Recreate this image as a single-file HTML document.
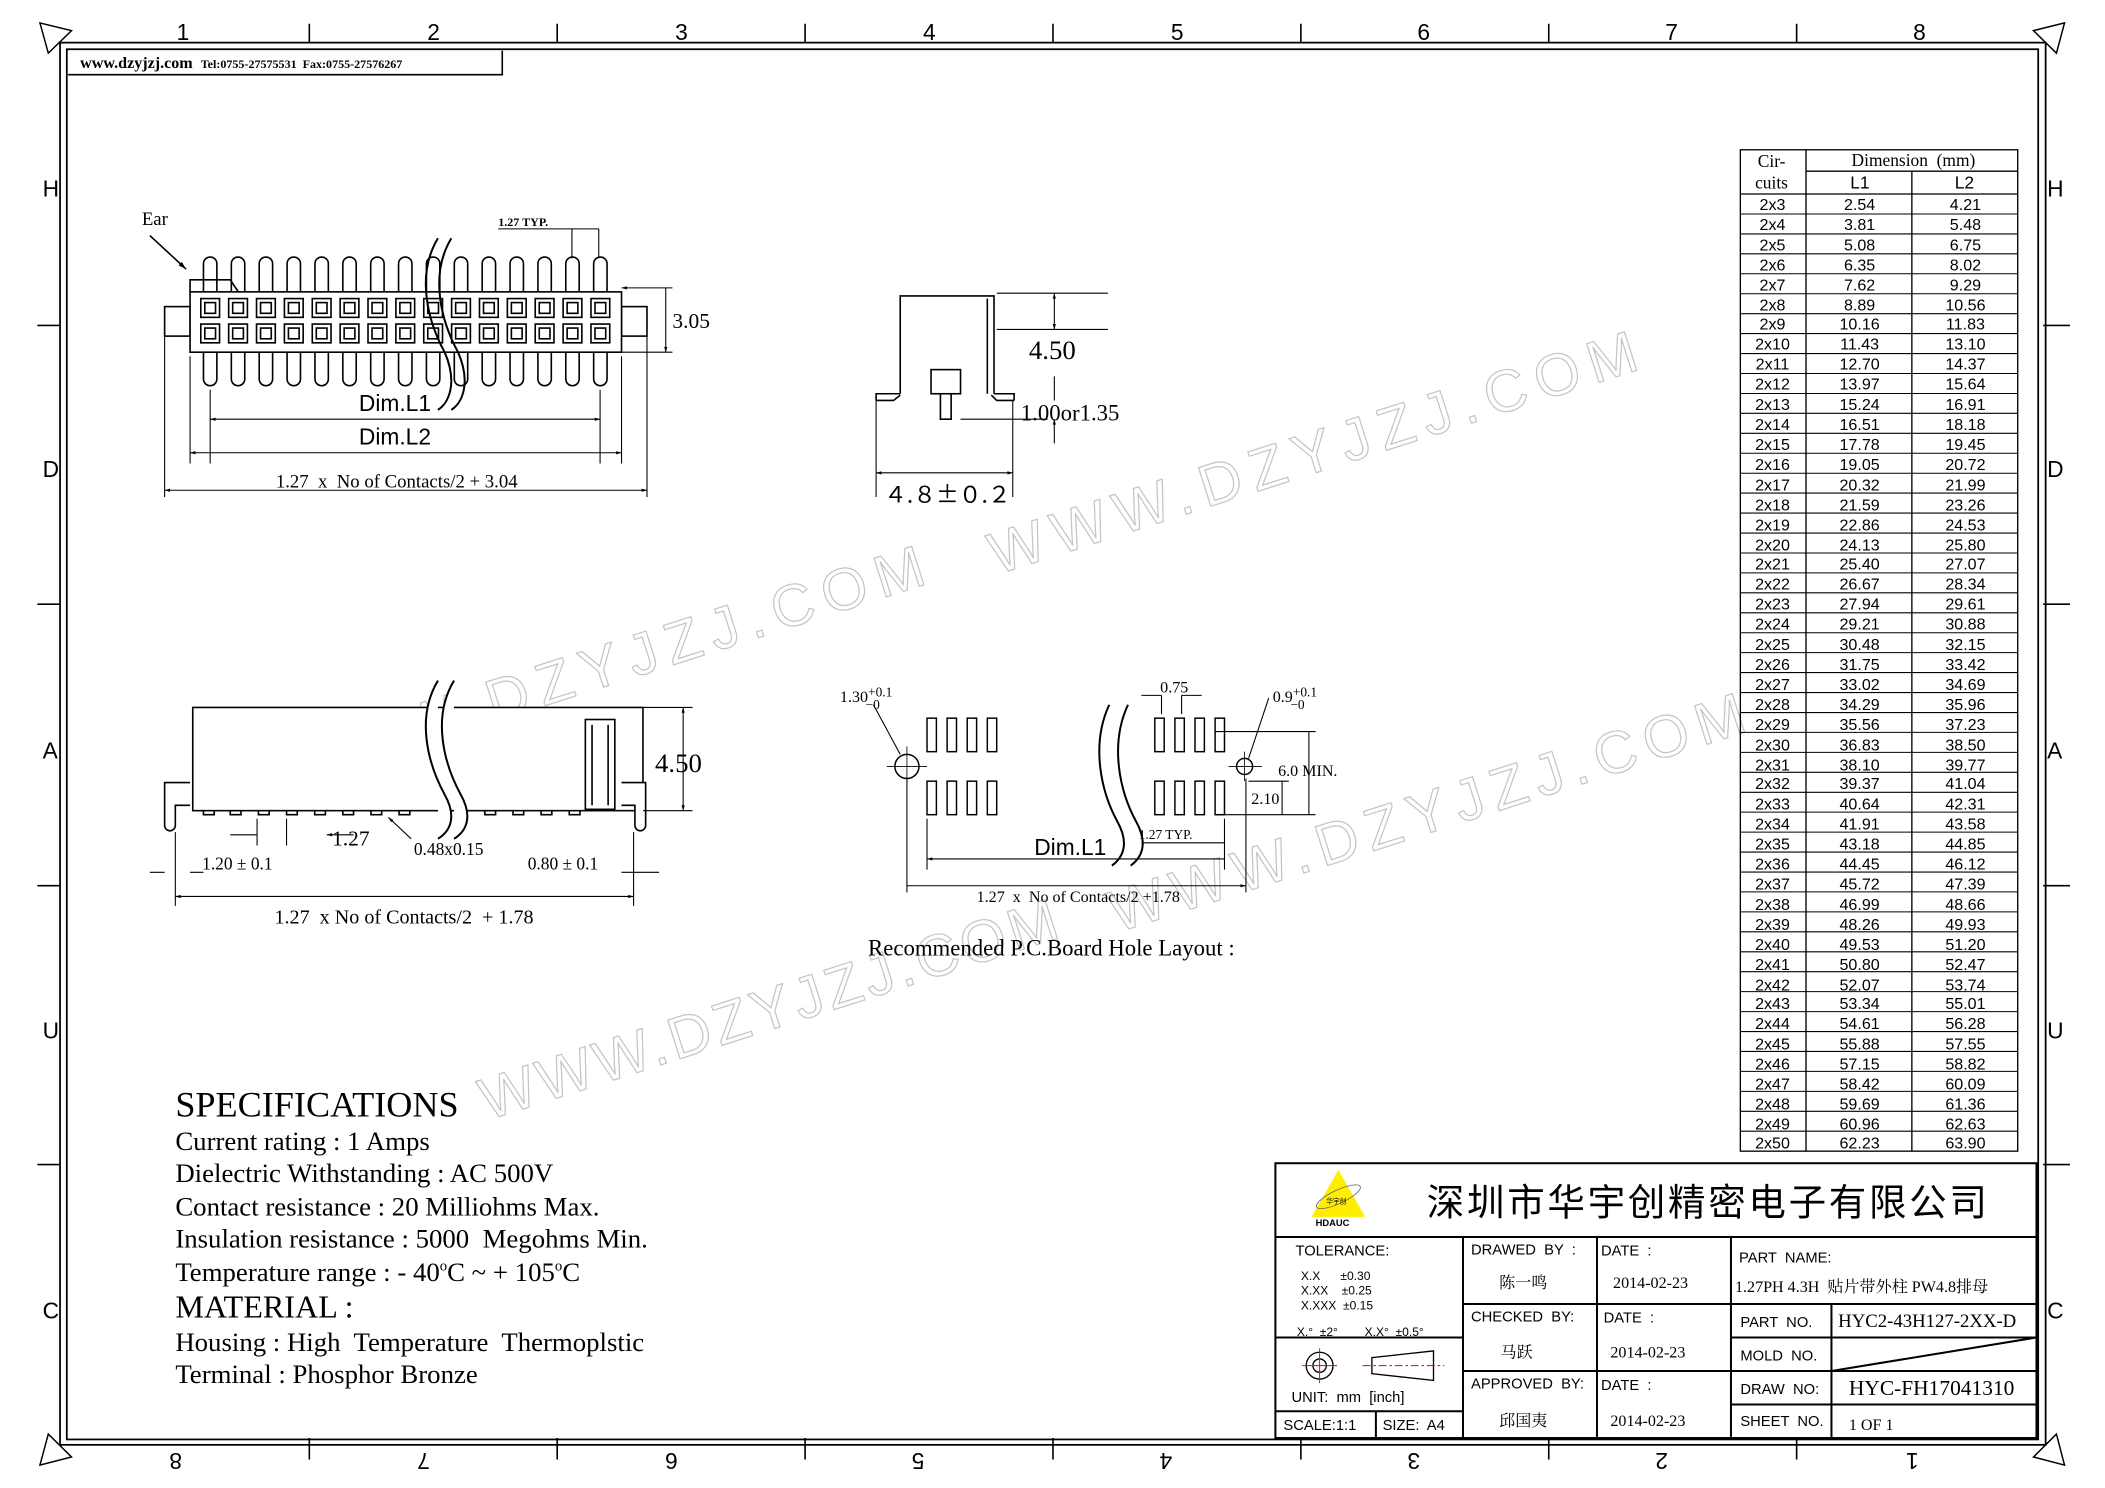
<!DOCTYPE html>
<html><head><meta charset="utf-8"><style>
html,body{margin:0;padding:0;background:#fff}
svg{display:block}
text{font-family:"Liberation Serif","Noto Serif CJK SC",serif;fill:#000;white-space:pre}
.s,.s text,.s tspan{font-family:"Liberation Sans","Noto Sans CJK SC",sans-serif}
.wm text{font-family:"Liberation Sans",sans-serif;font-weight:normal;fill:none;stroke:#c4c4c4;stroke-width:0.9}
</style></head><body>
<svg width="2105" height="1488" viewBox="0 0 1560 1103" preserveAspectRatio="none" xmlns="http://www.w3.org/2000/svg">
<defs>
<marker id="a" viewBox="0 0 10 10" refX="10" refY="5" markerWidth="7" markerHeight="5" orient="auto-start-reverse"><path d="M0,2 L10,5 L0,8z" fill="#000"/></marker>
</defs>
<!-- frame -->
<g fill="none" stroke="#000" stroke-width="1.3">
<rect x="44.5" y="31.6" width="1471.5" height="1039.4"/>
<rect x="49.5" y="36.5" width="1461" height="1030.5"/>
<path d="M29.6 17L53 22.7L35.8 39.4Z M1507 22.7L1530 17L1524 39.4Z M1507 1080L1524 1063L1530 1086Z M29.6 1086L35.8 1063L53 1080Z" stroke-width="1.1"/>
</g>
<g transform="matrix(0.993,0,0,0.9937,1.84,0.72)">
<g fill="none" stroke="#000" stroke-width="1.2">
<path d="M229 17V31M414 17V31M599 17V31M784 17V31M969 17V31M1154 17V31M1339 17V31 M229 1072V1088M414 1072V1088M599 1072V1088M784 1072V1088M969 1072V1088M1154 1072V1088M1339 1072V1088 M26 242H43M26 450H43M26 660H43M26 868H43M1523 242H1543M1523 450H1543M1523 660H1543M1523 868H1543"/>
<path d="M49 55H373V37"/>
</g>
<g font-size="17" class="s">
<text x="130" y="29">1</text><text x="317" y="29">2</text><text x="502" y="29">3</text><text x="687" y="29">4</text><text x="872" y="29">5</text><text x="1056" y="29">6</text><text x="1241" y="29">7</text><text x="1426" y="29">8</text>
<text x="30" y="146">H</text><text x="30" y="355">D</text><text x="30" y="565">A</text><text x="30" y="774">U</text><text x="30" y="983">C</text>
<text x="1526" y="146">H</text><text x="1526" y="355">D</text><text x="1526" y="565">A</text><text x="1526" y="774">U</text><text x="1526" y="983">C</text>
<g transform="rotate(180 780 1078)">
<text x="130" y="1073">1</text><text x="317" y="1073">2</text><text x="502" y="1073">3</text><text x="687" y="1073">4</text><text x="872" y="1073">5</text><text x="1056" y="1073">6</text><text x="1241" y="1073">7</text><text x="1426" y="1073">8</text>
</g>
</g>
<text x="58" y="50" font-size="12" font-weight="bold">www.dzyjzj.com  <tspan font-size="9">Tel:0755-27575531  Fax:0755-27576267</tspan></text>

<g class="wm" font-size="44">
<text transform="translate(742,428) rotate(-17.7)" textLength="505" lengthAdjust="spacing">WWW.DZYJZJ.COM</text>
<text transform="translate(210,588) rotate(-17.7)" textLength="505" lengthAdjust="spacing">WWW.DZYJZJ.COM</text>
<text transform="translate(362,835) rotate(-17.7)" textLength="450" lengthAdjust="spacing">WWW.DZYJZJ.COM</text>
<text transform="translate(832,695) rotate(-17.7)" textLength="495" lengthAdjust="spacing">WWW.DZYJZJ.COM</text>
</g>

<g fill="#fff" stroke="#000" stroke-width="1.2">
<rect x="121" y="228" width="19" height="22"/><rect x="462" y="228" width="19" height="22"/>
<g id="pins">
<path d="M150 217V196a5 5 0 0 1 10 0V217M150 262V282a5 5 0 0 0 10 0V262"/>
</g>
<use href="#pins" x="20.8"/><use href="#pins" x="41.6"/><use href="#pins" x="62.4"/><use href="#pins" x="83.2"/><use href="#pins" x="104"/><use href="#pins" x="124.8"/><use href="#pins" x="145.6"/><use href="#pins" x="166.4"/><use href="#pins" x="187.2"/><use href="#pins" x="208"/><use href="#pins" x="228.8"/><use href="#pins" x="249.6"/><use href="#pins" x="270.4"/><use href="#pins" x="291.2"/>
<rect x="140" y="217" width="322" height="45"/>
<path d="M140 217V208H170L176 217" fill="none"/>
<g id="sq"><rect x="148" y="222" width="14" height="14"/><rect x="151" y="225" width="8" height="8"/><rect x="148" y="241" width="14" height="14"/><rect x="151" y="244" width="8" height="8"/></g>
<use href="#sq" x="20.8"/><use href="#sq" x="41.6"/><use href="#sq" x="62.4"/><use href="#sq" x="83.2"/><use href="#sq" x="104"/><use href="#sq" x="124.8"/><use href="#sq" x="145.6"/><use href="#sq" x="166.4"/><use href="#sq" x="187.2"/><use href="#sq" x="208"/><use href="#sq" x="228.8"/><use href="#sq" x="249.6"/><use href="#sq" x="270.4"/><use href="#sq" x="291.2"/>
</g>
<g fill="none" stroke="#000" stroke-width="1.2">
<path d="M325 177C308 205 318 240 330 262C340 285 333 300 325 305M335 177C318 205 328 240 340 262C350 285 343 300 335 305" stroke-width="1.5"/>
<path d="M110 175L137 200" marker-end="url(#a)"/>
<path d="M370 170H445M425 170V192M445 170V192" stroke-width="0.8"/>
<path d="M462 214H500M462 262H500M495 214V262" stroke-width="0.8" marker-start="url(#a)" marker-end="url(#a)"/>
<path d="M155 290V345M446 290V345M140 265V345M462 265V345M121 250V370M481 250V370" stroke-width="0.8"/>
<path d="M155 312H446" marker-start="url(#a)" marker-end="url(#a)" stroke-width="0.8"/>
<path d="M140 337H462" marker-start="url(#a)" marker-end="url(#a)" stroke-width="0.8"/>
<path d="M121 365H481" marker-start="url(#a)" marker-end="url(#a)" stroke-width="0.8"/>
</g>
<text x="104" y="167" font-size="14">Ear</text>
<text x="370" y="168" font-size="9" font-weight="bold">1.27 TYP.</text>
<text x="500" y="244" font-size="16">3.05</text>
<g class="s"><text x="266" y="306" font-size="17">Dim.L1</text>
<text x="266" y="331" font-size="17">Dim.L2</text></g>
<text x="204" y="363" font-size="14">1.27  x  No of Contacts/2 + 3.04</text>

<g fill="none" stroke="#000" stroke-width="1.2">
<path d="M670 293V220H740V293"/>
<path d="M735 222V293"/>
<path d="M652 298V293H670M740 293H755V298M652 298H665L670 294M755 298H742L738 294"/>
<rect x="693" y="275" width="22" height="18"/>
<path d="M700 293V312H708V293"/>
<path d="M742 218H825M742 245H825M715 312H780" stroke-width="0.8"/>
<path d="M785 218V245" marker-start="url(#a)" marker-end="url(#a)" stroke-width="0.8"/>
<path d="M785 280V298M785 330V312" marker-end="url(#a)" stroke-width="0.8"/>
<path d="M652 298V370M754 298V370" stroke-width="0.8"/>
<path d="M652 352H754" marker-start="url(#a)" marker-end="url(#a)" stroke-width="0.8"/>
</g>
<text x="766" y="267" font-size="20">4.50</text>
<text x="760" y="313" font-size="17">1.00or1.35</text>
<text x="658" y="374" font-size="17" style="font-family:'Noto Sans CJK SC',sans-serif">４.８±０.２</text>

<g fill="none" stroke="#000" stroke-width="1.2">
<rect x="142" y="527" width="336" height="77" fill="#fff"/>
<path d="M140 583H121V615a4 4 0 0 0 8 0V600H140M462 583H480V615a4 4 0 0 1 -8 0V600H462" fill="#fff"/>
<rect x="435" y="536" width="22" height="67"/>
<path d="M440 540V600M452 540V600"/>
<path d="M150 604v3h8v-3M170 604v3h8v-3M191 604v3h8v-3M212 604v3h8v-3M233 604v3h8v-3M254 604v3h8v-3M275 604v3h8v-3M296 604v3h8v-3M360 604v3h8v-3M381 604v3h8v-3M402 604v3h8v-3M423 604v3h8v-3"/>
<path d="M325 507C308 535 318 570 330 592C340 610 333 620 325 625M337 507C320 535 330 570 342 592C352 610 345 620 337 625" stroke-width="1.5" fill="#fff"/>
<path d="M478 527H515M478 604H515" stroke-width="0.8"/>
<path d="M508 527V604" marker-start="url(#a)" marker-end="url(#a)" stroke-width="0.8"/>
<path d="M170 622H190M262 622H242" marker-end="url(#a)" stroke-width="0.8"/>
<path d="M190 610V630M212 610V630" stroke-width="0.8"/>
<path d="M305 625L288 609" marker-end="url(#a)" stroke-width="0.8"/>
<path d="M110 650H121M140 650H150" stroke-width="0.8"/>
<path d="M129 620V675M471 620V675" stroke-width="0.8"/>
<path d="M129 668H471" marker-start="url(#a)" marker-end="url(#a)" stroke-width="0.8"/>
<path d="M462 650H490" stroke-width="0.8"/>
</g>
<text x="487" y="575" font-size="20">4.50</text>
<text x="246" y="630" font-size="16">1.27</text>
<text x="307" y="637" font-size="13">0.48x0.15</text>
<text x="149" y="648" font-size="13">1.20 ± 0.1</text>
<text x="392" y="648" font-size="13">0.80 ± 0.1</text>
<text x="203" y="688" font-size="15">1.27  x No of Contacts/2  + 1.78</text>

<g fill="none" stroke="#000" stroke-width="1.1">
<g id="pd"><rect x="690" y="535" width="7" height="25"/><rect x="690" y="582" width="7" height="25"/></g>
<use href="#pd" x="15"/><use href="#pd" x="30"/><use href="#pd" x="45"/>
<use href="#pd" x="170"/><use href="#pd" x="185"/><use href="#pd" x="200"/><use href="#pd" x="215"/>
<circle cx="675" cy="571" r="9"/><circle cx="927" cy="571" r="6"/>
<path d="M660 571H690M915 571H940M675 556V586M927 560V582" stroke-width="0.6"/>
<path d="M826 525C812 555 820 590 832 612C842 630 835 640 828 645M840 525C826 555 834 590 846 612C856 630 849 640 842 645" stroke-width="1.5"/>
<path d="M650 525L670 562M945 520L930 565" stroke-width="0.8"/>
<path d="M865 518V532M880 518V532M850 518H865M895 518H880" stroke-width="0.8"/>
<path d="M905 545H980M905 607H980M975 545V607" stroke-width="0.8"/>
<path d="M930 582H960M955 582V607" stroke-width="0.8"/>
<path d="M690 610V648M912 610V648M675 580V665M928 580V665" stroke-width="0.8"/>
<path d="M690 640H912M675 660H928" marker-start="url(#a)" marker-end="url(#a)" stroke-width="0.8"/>
<path d="M850 628H912" stroke-width="0.8"/>
</g>
<text x="625" y="523" font-size="12">1.30<tspan font-size="10" dy="-4">+0.1</tspan><tspan font-size="10" dx="-20" dy="9">−0</tspan></text>
<text x="864" y="516" font-size="12">0.75</text>
<text x="948" y="523" font-size="12">0.9<tspan font-size="10" dy="-4">+0.1</tspan><tspan font-size="10" dx="-20" dy="9">−0</tspan></text>
<text x="952" y="578" font-size="12">6.0 MIN.</text>
<text x="932" y="599" font-size="12">2.10</text>
<text x="848" y="625" font-size="10">1.27 TYP.</text>
<g class="s"><text x="770" y="637" font-size="17">Dim.L1</text></g>
<text x="727" y="672" font-size="12">1.27  x  No of Contacts/2 +1.78</text>
<text x="646" y="712" font-size="17">Recommended P.C.Board Hole Layout :</text>

<text x="129" y="832" font-size="27">SPECIFICATIONS</text>
<g font-size="20">
<text x="129" y="857">Current rating : 1 Amps</text>
<text x="129" y="881">Dielectric Withstanding : AC 500V</text>
<text x="129" y="906">Contact resistance : 20 Milliohms Max.</text>
<text x="129" y="930">Insulation resistance : 5000  Megohms Min.</text>
<text x="129" y="955">Temperature range : - 40<tspan font-size="11" dy="-8">o</tspan><tspan dy="8">C ~ + 105</tspan><tspan font-size="11" dy="-8">o</tspan><tspan dy="8">C</tspan></text>
<text x="129" y="982" font-size="24">MATERIAL :</text>
<text x="129" y="1007">Housing : High  Temperature  Thermoplstic</text>
<text x="129" y="1031">Terminal : Phosphor Bronze</text>
</g>

<!-- table -->
<g fill="none" stroke="#000" stroke-width="1">
<rect x="1297" y="111" width="207" height="747"/>
<path d="M1297 144H1504M1346 127H1504M1346 111V858M1425 127V858"/>
<path stroke-width="0.8" d="M1297 158.9H1504M1297 173.8H1504M1297 188.6H1504M1297 203.5H1504M1297 218.4H1504M1297 233.3H1504M1297 248.1H1504M1297 263H1504M1297 277.9H1504M1297 292.8H1504M1297 307.6H1504M1297 322.5H1504M1297 337.4H1504M1297 352.3H1504M1297 367.1H1504M1297 382H1504M1297 396.9H1504M1297 411.8H1504M1297 426.6H1504M1297 441.5H1504M1297 456.4H1504M1297 471.3H1504M1297 486.1H1504M1297 501H1504M1297 515.9H1504M1297 530.8H1504M1297 545.6H1504M1297 560.5H1504M1297 575.4H1504M1297 590.3H1504M1297 605.1H1504M1297 620H1504M1297 634.9H1504M1297 649.8H1504M1297 664.6H1504M1297 679.5H1504M1297 694.4H1504M1297 709.3H1504M1297 724.1H1504M1297 739H1504M1297 753.9H1504M1297 768.8H1504M1297 783.6H1504M1297 798.5H1504M1297 813.4H1504M1297 828.3H1504M1297 843.1H1504"/>
</g>
<text x="1310" y="124" font-size="13">Cir-</text>
<text x="1308" y="140" font-size="13">cuits</text>
<text x="1380" y="123" font-size="13">Dimension  (mm)</text>
<g class="s"><text x="1379" y="140" font-size="13">L1</text>
<text x="1457" y="140" font-size="13">L2</text></g>
<g font-size="12" class="s" text-anchor="middle">
<text y="156"><tspan x="1321">2x3</tspan><tspan x="1386">2.54</tspan><tspan x="1465">4.21</tspan></text>
<text y="171"><tspan x="1321">2x4</tspan><tspan x="1386">3.81</tspan><tspan x="1465">5.48</tspan></text>
<text y="186"><tspan x="1321">2x5</tspan><tspan x="1386">5.08</tspan><tspan x="1465">6.75</tspan></text>
<text y="201"><tspan x="1321">2x6</tspan><tspan x="1386">6.35</tspan><tspan x="1465">8.02</tspan></text>
<text y="216"><tspan x="1321">2x7</tspan><tspan x="1386">7.62</tspan><tspan x="1465">9.29</tspan></text>
<text y="231"><tspan x="1321">2x8</tspan><tspan x="1386">8.89</tspan><tspan x="1465">10.56</tspan></text>
<text y="245"><tspan x="1321">2x9</tspan><tspan x="1386">10.16</tspan><tspan x="1465">11.83</tspan></text>
<text y="260"><tspan x="1321">2x10</tspan><tspan x="1386">11.43</tspan><tspan x="1465">13.10</tspan></text>
<text y="275"><tspan x="1321">2x11</tspan><tspan x="1386">12.70</tspan><tspan x="1465">14.37</tspan></text>
<text y="290"><tspan x="1321">2x12</tspan><tspan x="1386">13.97</tspan><tspan x="1465">15.64</tspan></text>
<text y="305"><tspan x="1321">2x13</tspan><tspan x="1386">15.24</tspan><tspan x="1465">16.91</tspan></text>
<text y="320"><tspan x="1321">2x14</tspan><tspan x="1386">16.51</tspan><tspan x="1465">18.18</tspan></text>
<text y="335"><tspan x="1321">2x15</tspan><tspan x="1386">17.78</tspan><tspan x="1465">19.45</tspan></text>
<text y="350"><tspan x="1321">2x16</tspan><tspan x="1386">19.05</tspan><tspan x="1465">20.72</tspan></text>
<text y="365"><tspan x="1321">2x17</tspan><tspan x="1386">20.32</tspan><tspan x="1465">21.99</tspan></text>
<text y="380"><tspan x="1321">2x18</tspan><tspan x="1386">21.59</tspan><tspan x="1465">23.26</tspan></text>
<text y="395"><tspan x="1321">2x19</tspan><tspan x="1386">22.86</tspan><tspan x="1465">24.53</tspan></text>
<text y="410"><tspan x="1321">2x20</tspan><tspan x="1386">24.13</tspan><tspan x="1465">25.80</tspan></text>
<text y="424"><tspan x="1321">2x21</tspan><tspan x="1386">25.40</tspan><tspan x="1465">27.07</tspan></text>
<text y="439"><tspan x="1321">2x22</tspan><tspan x="1386">26.67</tspan><tspan x="1465">28.34</tspan></text>
<text y="454"><tspan x="1321">2x23</tspan><tspan x="1386">27.94</tspan><tspan x="1465">29.61</tspan></text>
<text y="469"><tspan x="1321">2x24</tspan><tspan x="1386">29.21</tspan><tspan x="1465">30.88</tspan></text>
<text y="484"><tspan x="1321">2x25</tspan><tspan x="1386">30.48</tspan><tspan x="1465">32.15</tspan></text>
<text y="499"><tspan x="1321">2x26</tspan><tspan x="1386">31.75</tspan><tspan x="1465">33.42</tspan></text>
<text y="514"><tspan x="1321">2x27</tspan><tspan x="1386">33.02</tspan><tspan x="1465">34.69</tspan></text>
<text y="529"><tspan x="1321">2x28</tspan><tspan x="1386">34.29</tspan><tspan x="1465">35.96</tspan></text>
<text y="544"><tspan x="1321">2x29</tspan><tspan x="1386">35.56</tspan><tspan x="1465">37.23</tspan></text>
<text y="559"><tspan x="1321">2x30</tspan><tspan x="1386">36.83</tspan><tspan x="1465">38.50</tspan></text>
<text y="574"><tspan x="1321">2x31</tspan><tspan x="1386">38.10</tspan><tspan x="1465">39.77</tspan></text>
<text y="588"><tspan x="1321">2x32</tspan><tspan x="1386">39.37</tspan><tspan x="1465">41.04</tspan></text>
<text y="603"><tspan x="1321">2x33</tspan><tspan x="1386">40.64</tspan><tspan x="1465">42.31</tspan></text>
<text y="618"><tspan x="1321">2x34</tspan><tspan x="1386">41.91</tspan><tspan x="1465">43.58</tspan></text>
<text y="633"><tspan x="1321">2x35</tspan><tspan x="1386">43.18</tspan><tspan x="1465">44.85</tspan></text>
<text y="648"><tspan x="1321">2x36</tspan><tspan x="1386">44.45</tspan><tspan x="1465">46.12</tspan></text>
<text y="663"><tspan x="1321">2x37</tspan><tspan x="1386">45.72</tspan><tspan x="1465">47.39</tspan></text>
<text y="678"><tspan x="1321">2x38</tspan><tspan x="1386">46.99</tspan><tspan x="1465">48.66</tspan></text>
<text y="693"><tspan x="1321">2x39</tspan><tspan x="1386">48.26</tspan><tspan x="1465">49.93</tspan></text>
<text y="708"><tspan x="1321">2x40</tspan><tspan x="1386">49.53</tspan><tspan x="1465">51.20</tspan></text>
<text y="723"><tspan x="1321">2x41</tspan><tspan x="1386">50.80</tspan><tspan x="1465">52.47</tspan></text>
<text y="738"><tspan x="1321">2x42</tspan><tspan x="1386">52.07</tspan><tspan x="1465">53.74</tspan></text>
<text y="752"><tspan x="1321">2x43</tspan><tspan x="1386">53.34</tspan><tspan x="1465">55.01</tspan></text>
<text y="767"><tspan x="1321">2x44</tspan><tspan x="1386">54.61</tspan><tspan x="1465">56.28</tspan></text>
<text y="782"><tspan x="1321">2x45</tspan><tspan x="1386">55.88</tspan><tspan x="1465">57.55</tspan></text>
<text y="797"><tspan x="1321">2x46</tspan><tspan x="1386">57.15</tspan><tspan x="1465">58.82</tspan></text>
<text y="812"><tspan x="1321">2x47</tspan><tspan x="1386">58.42</tspan><tspan x="1465">60.09</tspan></text>
<text y="827"><tspan x="1321">2x48</tspan><tspan x="1386">59.69</tspan><tspan x="1465">61.36</tspan></text>
<text y="842"><tspan x="1321">2x49</tspan><tspan x="1386">60.96</tspan><tspan x="1465">62.63</tspan></text>
<text y="856"><tspan x="1321">2x50</tspan><tspan x="1386">62.23</tspan><tspan x="1465">63.90</tspan></text>
</g>

<g fill="none" stroke="#000" stroke-width="1.5">
<rect x="950" y="867" width="568" height="205"/>
<path d="M950 922H1518M950 997H1090M950 1052H1090M1025 1052V1072M1090 922V1072M1190 922V1072M1290 922V1072M1365 972V1072M1090 972H1290M1090 1022H1290M1290 972H1518M1290 997H1518M1290 1022H1518M1290 1047H1518M1365 1022L1518 997"/>
</g>
<path d="M997 872L977 907H1017Z" fill="#ffee00"/>
<ellipse cx="997" cy="892" rx="18" ry="5" fill="none" stroke="#666" stroke-width="0.6" transform="rotate(-25 997 892)"/>
<g class="s">
<text x="988" y="897" font-size="5">华宇创</text>
<text x="980" y="914" font-size="7" font-weight="bold">HDAUC</text>
<text x="1063" y="906" font-size="28" textLength="418">深圳市华宇创精密电子有限公司</text>
</g>
<g class="s" font-size="11">
<text x="965" y="936">TOLERANCE:</text>
<text x="969" y="954" font-size="9">X.X      ±0.30</text>
<text x="969" y="965" font-size="9">X.XX    ±0.25</text>
<text x="969" y="976" font-size="9">X.XXX  ±0.15</text>
<text x="966" y="996" font-size="9">X.°  ±2°        X.X°  ±0.5°</text>
<text x="962" y="1045">UNIT:  mm  [inch]</text>
<text x="956" y="1066">SCALE:1:1</text>
<text x="1030" y="1066">SIZE:  A4</text>
<text x="1096" y="935">DRAWED  BY  :</text>
<text x="1096" y="985">CHECKED  BY:</text>
<text x="1096" y="1035">APPROVED  BY:</text>
<text x="1193" y="936">DATE  :</text>
<text x="1195" y="986">DATE  :</text>
<text x="1193" y="1036">DATE  :</text>
<text x="1296" y="941">PART  NAME:</text>
<text x="1297" y="989">PART  NO.</text>
<text x="1297" y="1014">MOLD  NO.</text>
<text x="1297" y="1039">DRAW  NO:</text>
<text x="1297" y="1063">SHEET  NO.</text>
</g>
<g font-size="12">
<text x="1117" y="960">陈一鸣</text>
<text x="1118" y="1012">马跃</text>
<text x="1117" y="1063">邱国夷</text>
<text x="1202" y="960">2014-02-23</text>
<text x="1200" y="1012">2014-02-23</text>
<text x="1200" y="1063">2014-02-23</text>
<text x="1293" y="963">1.27PH 4.3H  贴片带外柱 PW4.8排母</text>
<text x="1370" y="989" font-size="14">HYC2-43H127-2XX-D</text>
<text x="1378" y="1040" font-size="16">HYC-FH17041310</text>
<text x="1378" y="1066">1 OF 1</text>
</g>
<g fill="none" stroke="#000" stroke-width="1">
<circle cx="983" cy="1018" r="10"/><circle cx="983" cy="1018" r="5"/>
<path d="M970 1018H996M983 1005V1031" stroke="#e00" stroke-width="0.7"/>
<path d="M1022 1012L1068 1007V1029L1022 1024Z"/>
<path d="M1015 1018H1076" stroke="#e00" stroke-width="0.7" stroke-dasharray="6 2 2 2"/>
</g>
</g>
</svg>
</body></html>
